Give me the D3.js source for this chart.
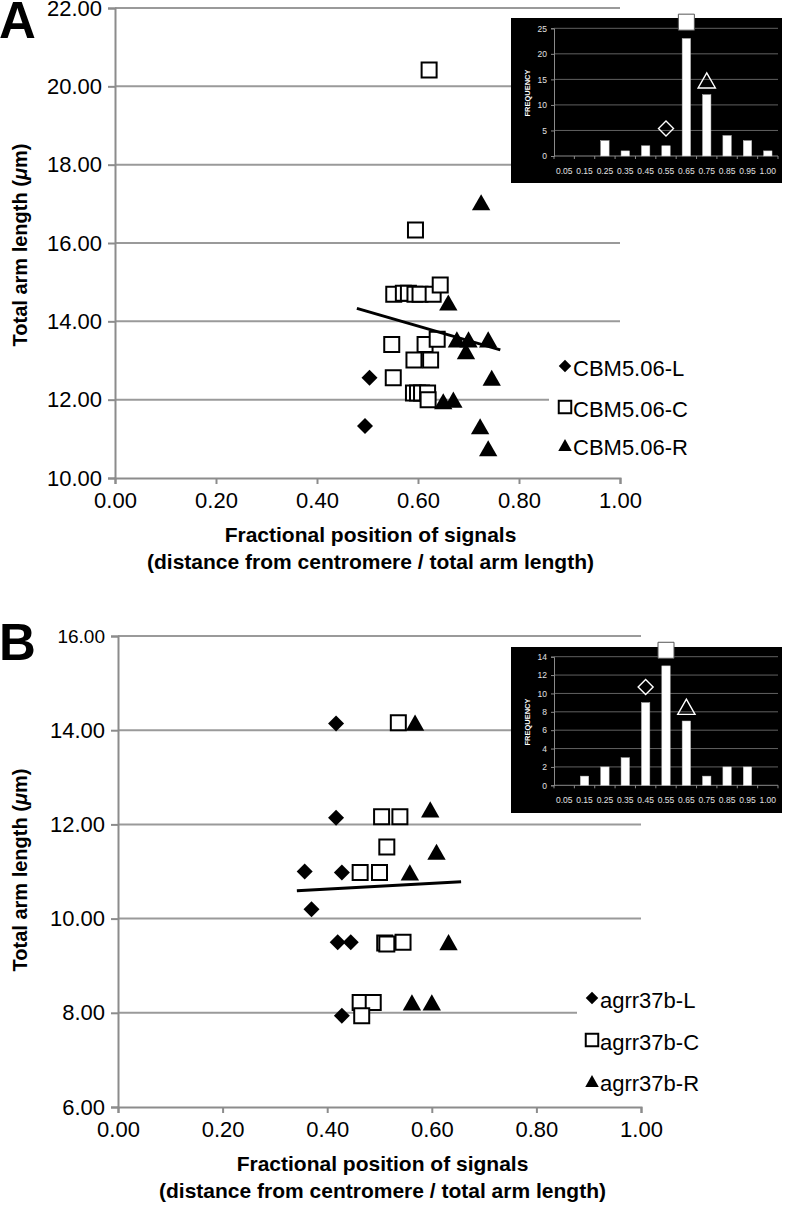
<!DOCTYPE html>
<html><head><meta charset="utf-8">
<script src="https://cdn.jsdelivr.net/npm/d3@7"></script>
<style>body{margin:0;background:#fff}svg{display:block}text{font-family:"Liberation Sans",Arial,Helvetica,sans-serif}</style>
</head><body><svg id="c" width="787" height="1211"></svg>
<script>
// ---------- Panel A data ----------
const xTicks = [0, 0.2, 0.4, 0.6, 0.8, 1.0];
const yTicksA = [10, 12, 14, 16, 18, 20, 22];
const yTicksB = [6, 8, 10, 12, 14, 16];
const seriesNamesA = ["CBM5.06-L", "CBM5.06-C", "CBM5.06-R"];
const seriesNamesB = ["agrr37b-L", "agrr37b-C", "agrr37b-R"];
const L_A = [[0.504,12.56],[0.495,11.33]];
const C_A = [[0.622,20.42],[0.595,16.33],[0.552,14.69],[0.571,14.72],[0.581,14.72],[0.594,14.69],[0.604,14.69],[0.630,14.69],[0.644,14.93],[0.548,13.41],[0.614,13.41],[0.638,13.54],[0.592,13.01],[0.625,13.01],[0.551,12.56],[0.591,12.17],[0.599,12.17],[0.607,12.17],[0.619,12.17],[0.620,12.0]];
const R_A = [[0.725,17.04],[0.66,14.48],[0.677,13.54],[0.70,13.54],[0.739,13.54],[0.695,13.24],[0.746,12.56],[0.65,11.96],[0.67,12.0],[0.723,11.32],[0.739,10.76]];
const trendA = [[0.479,14.33],[0.763,13.27]];
// ---------- Panel B data ----------
const L_B = [[0.417,14.14],[0.417,12.14],[0.357,11.0],[0.428,10.98],[0.37,10.2],[0.42,9.5],[0.445,9.5],[0.428,7.94]];
const C_B = [[0.536,14.16],[0.504,12.16],[0.539,12.16],[0.514,11.52],[0.463,10.98],[0.50,10.98],[0.51,9.48],[0.514,9.46],[0.545,9.5],[0.463,8.22],[0.488,8.22],[0.466,7.94]];
const R_B = [[0.568,14.16],[0.597,12.32],[0.609,11.42],[0.558,10.98],[0.632,9.5],[0.562,8.22],[0.60,8.22]];
const trendB = [[0.342,10.59],[0.656,10.78]];
// ---------- Inset histograms ----------
const bins = ["0.05","0.15","0.25","0.35","0.45","0.55","0.65","0.75","0.85","0.95","1.00"];
const histA = [0,0,3,1,2,2,23,12,4,3,1];
const histB = [0,1,2,3,9,13,7,1,2,2,0];
const histTicksA = [0,5,10,15,20,25];
const histTicksB = [0,2,4,6,8,10,12,14];
const insetMarkA = [["diamond","0.55",5.4],["square","0.65",26.2],["triangle","0.75",14.8]];
const insetMarkB = [["diamond","0.45",10.7],["square","0.55",14.7],["triangle","0.65",8.55]];

const svg = d3.select("#c");
const GRID = "#9a9a9a", AXIS = "#8c8c8c";

function shapePath(type, s) {
  if (type === "diamond") { const h = s/2; return `M0,${-h}L${h},0L0,${h}L${-h},0Z`; }
  if (type === "square") { const h = s/2; return `M${-h},${-h}H${h}V${h}H${-h}Z`; }
  const w = s*1.08, h = s*0.95;
  return `M0,${-h/2}L${w/2},${h/2}L${-w/2},${h/2}Z`;
}
function drawMarker(g, type, x, y, s, hollowStyle) {
  const p = g.append("path").attr("d", shapePath(type, s)).attr("transform", `translate(${x},${y})`);
  if (hollowStyle === "white") p.attr("fill", "none").attr("stroke", "#fff").attr("stroke-width", 1.4);
  else if (type === "square") p.attr("fill", "#fff").attr("stroke", "#000").attr("stroke-width", 2);
  else p.attr("fill", "#000");
  return p;
}

function panel(cfg) {
  const g = svg.append("g");
  const x = d3.scaleLinear().domain([0,1]).range(cfg.xr);
  const y = d3.scaleLinear().domain(cfg.yd).range(cfg.yr);
  g.append("g").selectAll("line").data(cfg.yTicks.slice(1)).join("line")
    .attr("x1", cfg.xr[0]).attr("x2", cfg.xr[1]).attr("y1", d => y(d)).attr("y2", d => y(d))
    .attr("stroke", GRID).attr("stroke-width", 2);
  const ya = g.append("g").attr("transform", `translate(${cfg.xr[0]},0)`)
    .call(d3.axisLeft(y).tickValues(cfg.yTicks).tickFormat(d3.format(".2f")).tickSize(7).tickPadding(6));
  const xa = g.append("g").attr("transform", `translate(0,${cfg.yr[0]})`)
    .call(d3.axisBottom(x).tickValues(xTicks).tickFormat(d3.format(".2f")).tickSize(6).tickPadding(8));
  [ya, xa].forEach(a => {
    a.select(".domain").attr("stroke", AXIS).attr("stroke-width", 2);
    a.selectAll(".tick line").attr("stroke", AXIS).attr("stroke-width", 2);
    a.selectAll("text").attr("fill", "#000").style("font-size", "22px").attr("font-family", null);
  });
  if (cfg.smallTop) ya.selectAll(".tick text").filter(d => d === cfg.yd[1]).style("font-size", "19px");
  if (cfg.nudgeTop) ya.selectAll(".tick text").filter(d => d === cfg.yd[1]).attr("dy", "0.5em");
  g.append("rect").attr("x", cfg.legBox[0]).attr("y", cfg.legBox[1]).attr("width", cfg.legBox[2]).attr("height", cfg.legBox[3]).attr("fill", "#fff");
  const types = ["diamond","square","triangle"];
  cfg.series.forEach((data, i) => {
    const sz = types[i] === "diamond" ? 16 : (types[i] === "square" ? 15 : 17);
    data.forEach(d => drawMarker(g, types[i], x(d[0]), y(d[1]), sz));
  });
  g.append("path").datum(cfg.trend).attr("d", d3.line().x(d => x(d[0])).y(d => y(d[1])))
    .attr("stroke", "#000").attr("stroke-width", 3).attr("fill", "none");
  cfg.names.forEach((n, i) => {
    const yy = cfg.legY[i];
    drawMarker(g, types[i], cfg.legX, yy - 2, 12.5);
    g.append("text").attr("x", cfg.legX + 8).attr("y", yy + 8).style("font-size", "22px").text(n);
  });
  const cx = (cfg.xr[0] + cfg.xr[1]) / 2 + 3;
  g.append("text").attr("x", cx).attr("y", cfg.titleY).attr("text-anchor", "middle")
    .style("font-size", "21px").style("font-weight", "bold").text("Fractional position of signals");
  g.append("text").attr("x", cx).attr("y", cfg.titleY + 27).attr("text-anchor", "middle")
    .style("font-size", "21px").style("font-weight", "bold").text("(distance from centromere / total arm length)");
  const yt = g.append("text").attr("transform", `translate(${cfg.yTitleX},${cfg.yTitleY}) rotate(-90)`)
    .attr("text-anchor", "middle").style("font-size", "20px").style("font-weight", "bold");
  yt.append("tspan").text("Total arm length (");
  yt.append("tspan").style("font-style", "italic").text("\u03bc");
  yt.append("tspan").text("m)");
  g.append("text").attr("x", -1).attr("y", cfg.letterY).style("font-size", "51px").style("font-weight", "bold").text(cfg.letter);
  return g;
}

function inset(cfg) {
  const g = svg.append("g");
  g.append("rect").attr("x", cfg.box[0]).attr("y", cfg.box[1]).attr("width", cfg.box[2]).attr("height", cfg.box[3]).attr("fill", "#000");
  const x = d3.scaleBand().domain(bins).range([554, 778]);
  const y = d3.scaleLinear().domain([0, cfg.max]).range(cfg.yr);
  g.append("g").selectAll("line").data(cfg.ticks.slice(1)).join("line")
    .attr("x1", 554).attr("x2", 778).attr("y1", d => y(d)).attr("y2", d => y(d))
    .attr("stroke", "#7a7a7a").attr("stroke-width", 0.8);
  const ya = g.append("g").attr("transform", "translate(554,0)").call(d3.axisLeft(y).tickValues(cfg.ticks).tickSize(3).tickPadding(4));
  ya.select(".domain").attr("stroke", "#8a8a8a");
  ya.selectAll(".tick line").attr("stroke", "#8a8a8a");
  ya.selectAll("text").attr("fill", "#e0e0e0").style("font-size", "8.5px").attr("font-family", null);
  const step = x.step();
  g.append("line").attr("x1", 554).attr("x2", 778).attr("y1", cfg.yr[0]).attr("y2", cfg.yr[0]).attr("stroke", "#8a8a8a");
  g.append("g").selectAll("line").data(d3.range(12)).join("line")
    .attr("x1", i => 554 + i*step).attr("x2", i => 554 + i*step).attr("y1", cfg.yr[0]).attr("y2", cfg.yr[0] + 3).attr("stroke", "#8a8a8a");
  g.append("g").selectAll("text").data(bins).join("text")
    .attr("x", d => x(d) + step/2).attr("y", cfg.yr[0] + 18).attr("text-anchor", "middle")
    .attr("fill", "#e0e0e0").style("font-size", "8.5px").text(d => d);
  const bw = 8.4;
  g.append("g").selectAll("rect").data(cfg.hist.map((v, i) => [bins[i], v])).join("rect")
    .attr("x", d => x(d[0]) + step/2 - bw/2).attr("width", bw)
    .attr("y", d => y(d[1])).attr("height", d => cfg.yr[0] - y(d[1]))
    .attr("fill", "#fff").attr("stroke", "#bbb").attr("stroke-width", 0.5);
  g.append("text").attr("transform", `translate(530,${cfg.freqY}) rotate(-90)`).attr("text-anchor", "middle")
    .attr("fill", "#fff").style("font-size", "7.5px").style("font-weight", "bold").text("FREQUENCY");
  cfg.marks.forEach(m => {
    const cxp = x(m[1]) + step/2, cyp = y(m[2]);
    if (m[0] === "square") {
      g.append("path").attr("d", shapePath("square", 16)).attr("transform", `translate(${cxp},${cyp})`)
        .attr("fill", "#fff").attr("stroke", "#555").attr("stroke-width", 1);
    } else {
      drawMarker(g, m[0], cxp, cyp, m[0] === "diamond" ? 15 : 16, "white");
    }
  });
}

panel({xr:[115,620], yd:[10,22], yr:[478,8], yTicks:yTicksA, series:[L_A,C_A,R_A], trend:trendA,
  names:seriesNamesA, legX:565, legY:[368,409,447], legBox:[549,350,150,116],
  titleY:542, yTitleX:27, yTitleY:245, letter:"A", letterY:38});
panel({xr:[118,641], yd:[6,16], yr:[1107,636], yTicks:yTicksB, series:[L_B,C_B,R_B], trend:trendB,
  names:seriesNamesB, legX:592, legY:[1000,1042,1083], legBox:[577,978,150,118],
  titleY:1171, yTitleX:27, yTitleY:870, letter:"B", letterY:660, smallTop:true});
inset({box:[511,18,271,165], yr:[156,28.3], max:25, ticks:histTicksA, hist:histA, marks:insetMarkA, freqY:93});
inset({box:[511,647,271,166], yr:[785.3,656.7], max:14, ticks:histTicksB, hist:histB, marks:insetMarkB, freqY:722});
</script></body></html>
